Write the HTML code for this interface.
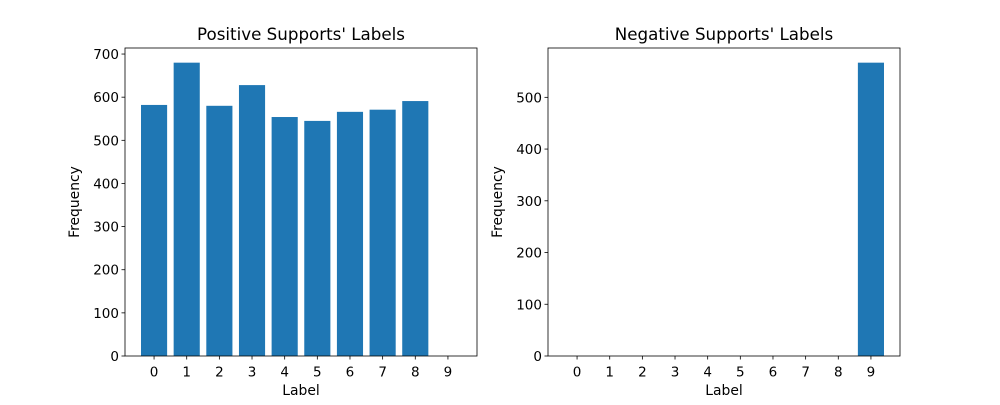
<!DOCTYPE html>
<html><head><meta charset="utf-8"><style>
body{margin:0;background:#fff;font-family:"Liberation Sans","DejaVu Sans",sans-serif}
svg text{font-family:"DejaVu Sans","Liberation Sans",sans-serif;fill:#000}
</style></head><body>
<svg id="fig" width="1000" height="400" xmlns="http://www.w3.org/2000/svg"></svg>
<script>
const categories=[0,1,2,3,4,5,6,7,8,9];
const positiveValues=[582,680,580,628,554,545,566,571,591,0];
const negativeValues=[0,0,0,0,0,0,0,0,0,567];
const positiveTicks=[0,100,200,300,400,500,600,700];
const negativeTicks=[0,100,200,300,400,500];
const svg=document.getElementById('fig');
const NS='http://www.w3.org/2000/svg';
function mk(tag,attrs,parent){const e=document.createElementNS(NS,tag);for(const k in attrs)e.setAttribute(k,attrs[k]);(parent||svg).appendChild(e);return e;}
function panel(left,values,ticks,title,prefix){
  const top=48,bottom=356,right=left+352;
  const maxV=Math.max(...values)*1.05;
  const xmin=-0.89,xmax=9.89;
  const xs=v=>left+(v-xmin)/(xmax-xmin)*(right-left);
  const ys=v=>bottom-v/maxV*(bottom-top);
  const g=mk('g',{});
  
  
  categories.forEach((c,i)=>{
    if(values[i]>0){
      const r=mk('rect',{x:xs(c-0.4),y:ys(values[i]),width:xs(c+0.4)-xs(c-0.4),height:bottom-ys(values[i]),fill:'#1f77b4'},g);
      
      
    }
    mk('line',{x1:xs(c),x2:xs(c),y1:bottom,y2:bottom+3.5,stroke:'#000','stroke-width':0.8},g);
    const t=mk('text',{x:xs(c),y:bottom+20.5,'text-anchor':'middle','font-size':13.5},g);
    t.textContent=c;
    
    
  });
  ticks.forEach(v=>{
    mk('line',{x1:left-3.5,x2:left,y1:ys(v),y2:ys(v),stroke:'#000','stroke-width':0.8},g);
    const t=mk('text',{x:left-6,y:ys(v)+5,'text-anchor':'end','font-size':13.5},g);
    t.textContent=v;
    
    
  });
  const fr=mk('rect',{x:left,y:top,width:right-left,height:bottom-top,fill:'none',stroke:'#000','stroke-width':0.8},g);
  
  
  const tt=mk('text',{x:(left+right)/2,y:top-8,'text-anchor':'middle','font-size':16.7},g);
  tt.textContent=title;
  
  
  const xl=mk('text',{x:(left+right)/2,y:bottom+39,'text-anchor':'middle','font-size':13.9},g);
  xl.textContent='Label';
  
  
  const cy=(top+bottom)/2,cx=left-46;
  const yl=mk('text',{x:cx,y:cy,'text-anchor':'middle','font-size':13.9,transform:`rotate(-90 ${cx} ${cy})`},g);
  yl.textContent='Frequency';
  
  
}
panel(125,positiveValues,positiveTicks,"Positive Supports' Labels",'positive');
panel(548,negativeValues,negativeTicks,"Negative Supports' Labels",'negative');
</script>
</body></html>
